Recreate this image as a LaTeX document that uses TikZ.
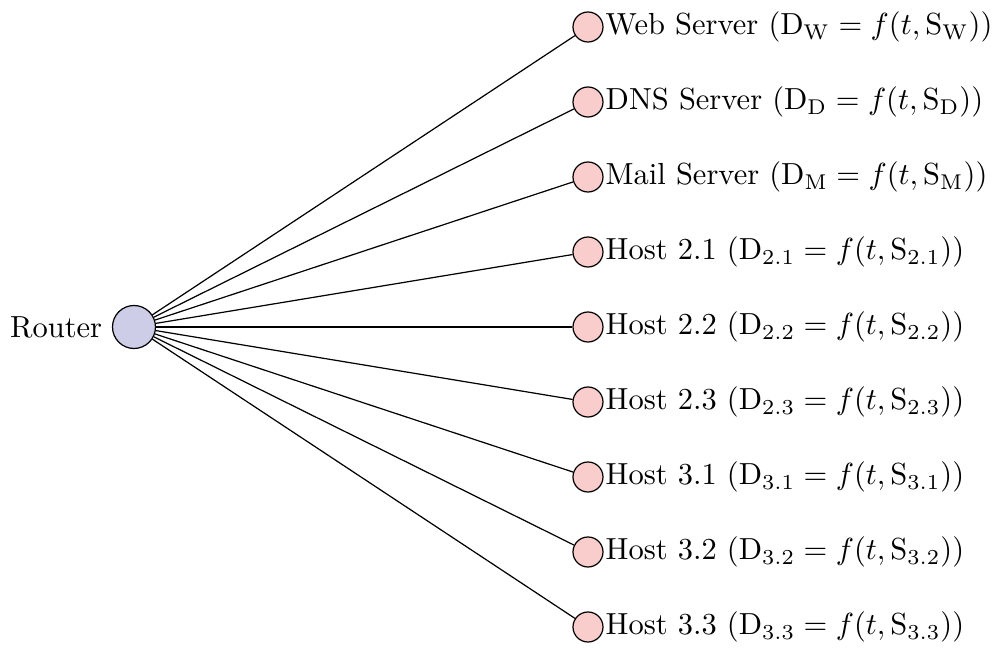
\documentclass[tikz,border=0pt]{standalone}
\definecolor{routerfill}{RGB}{205,205,232}
\definecolor{leaffill}{RGB}{250,205,205}
\begin{document}
\begin{tikzpicture}[x=0.328pt,y=-0.328pt,
  routernode/.style={circle,draw=black,fill=routerfill,minimum size=43*0.328pt,inner sep=0pt,line width=0.4pt},
  leafnode/.style={circle,draw=black,fill=leaffill,minimum size=30*0.328pt,inner sep=0pt,line width=0.4pt},
  leaftext/.style={anchor=west,inner sep=0.5pt,font=\fontsize{10}{12}\selectfont},
  link/.style={draw=black,line width=0.4pt}]
\useasboundingbox (0,0) rectangle (994,648);
\node[routernode] (router) at (134,327) {};
\node[anchor=east,inner sep=3pt] (routerlabel) at (router.west) {Router};
\foreach \i/\txt in {
  0/{Web Server ($\mathrm{D_W}=f(t,\mathrm{S_W})$)},
  1/{DNS Server ($\mathrm{D_D}=f(t,\mathrm{S_D})$)},
  2/{Mail Server ($\mathrm{D_M}=f(t,\mathrm{S_M})$)},
  3/{Host 2.1 ($\mathrm{D_{2.1}}=f(t,\mathrm{S_{2.1}})$)},
  4/{Host 2.2 ($\mathrm{D_{2.2}}=f(t,\mathrm{S_{2.2}})$)},
  5/{Host 2.3 ($\mathrm{D_{2.3}}=f(t,\mathrm{S_{2.3}})$)},
  6/{Host 3.1 ($\mathrm{D_{3.1}}=f(t,\mathrm{S_{3.1}})$)},
  7/{Host 3.2 ($\mathrm{D_{3.2}}=f(t,\mathrm{S_{3.2}})$)},
  8/{Host 3.3 ($\mathrm{D_{3.3}}=f(t,\mathrm{S_{3.3}})$)}} {
  \node[leafnode] (leaf\i) at (588,{27+75*\i}) {};
  \node[leaftext] (text\i) at (leaf\i.east) {\txt};
  \draw[link] (router) -- (leaf\i);
}
\end{tikzpicture}
\end{document}
